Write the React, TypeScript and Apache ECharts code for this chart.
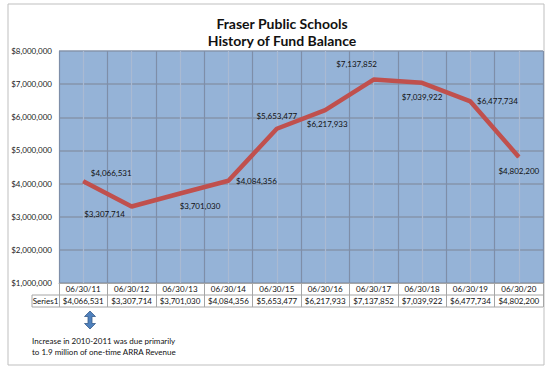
import React, { useEffect, useRef } from "react";
import * as echarts from "echarts";

const categories = ["06/30/11", "06/30/12", "06/30/13", "06/30/14", "06/30/15", "06/30/16", "06/30/17", "06/30/18", "06/30/19", "06/30/20"];
const fundBalance = [4066531, 3307714, 3701030, 4084356, 5653477, 6217933, 7137852, 7039922, 6477734, 4802200];
const seriesName = "Series1";
const titleLines = ["Fraser Public Schools", "History of Fund Balance"];
const noteLines = ["Increase in 2010-2011 was due primarily", "to 1.9 million of one-time ARRA Revenue"];
const labelNudges: [number, number][] = [
  [28, -8], [-27, 7], [20, 13], [28, 0], [0, -13], [2, 14], [-17, -16], [0, 14], [27, 0], [0, 14],
];

const money = (v: number) => "$" + v.toLocaleString("en-US");
const FONT = "Lato, 'Open Sans', sans-serif";

export default function App() {
  const ref = useRef<HTMLDivElement>(null);
  useEffect(() => {
    if (!ref.current) return;
    const chart = echarts.init(ref.current, null, { renderer: "svg" });
    const gridLeft = 59, gridRight = 543, gridBottom = 283;
    const option: any = {
      animation: false,
      backgroundColor: "#ffffff",
      textStyle: { fontFamily: FONT },
      title: {
        text: titleLines.join("\n"),
        left: 277,
        top: 10,
        textAlign: "center",
        textStyle: { fontFamily: FONT, fontSize: 14, fontWeight: "bold", lineHeight: 17, color: "#111" },
      },
      grid: { left: gridLeft, right: 550 - gridRight, top: 51, bottom: 370 - gridBottom, containLabel: false, outerBoundsMode: "none", backgroundColor: "#95b3d7", show: true, borderWidth: 0 },
      xAxis: [
        {
          type: "category",
          data: categories,
          position: "bottom",
          boundaryGap: true,
          axisLine: { show: true, lineStyle: { color: "#a6a6a6", width: 1 } },
          axisTick: { show: true, interval: 0, length: 24, lineStyle: { color: "#a6a6a6" } },
          axisLabel: {
            interval: 0,
            margin: 0,
            fontSize: 8,
            lineHeight: 12,
            color: "#111",
            fontFamily: FONT,
            formatter: (v: string, i: number) => v + "\n" + money(fundBalance[i]),
          },
          splitLine: { show: false },
        },
        {
          type: "value",
          position: "top",
          min: 0,
          max: 20,
          interval: 1,
          axisLine: { show: false },
          axisTick: { show: false },
          axisLabel: { show: false },
          splitLine: { show: true, lineStyle: { color: ["#7e8ea8", "#a9bad2"], width: 1.2 } },
        },
      ],
      yAxis: {
        type: "value",
        min: 1000000,
        max: 8000000,
        interval: 1000000,
        axisLine: { show: false },
        axisTick: { show: false },
        axisLabel: { fontSize: 8, color: "#222", margin: 7, fontFamily: FONT, formatter: (v: number) => money(v) },
        splitLine: { show: true, lineStyle: { color: "#8694ab", width: 1.5 } },
      },
      series: [
        {
          name: seriesName,
          type: "line",
          xAxisIndex: 0,
          data: fundBalance.map((v, i) => ({
            value: v,
            label: { offset: labelNudges[i] },
          })),
          symbol: "circle",
          symbolSize: 1,
          showSymbol: true,
          itemStyle: { color: "#c0504d" },
          lineStyle: { color: "#c0504d", width: 4.5 },
          label: {
            show: true,
            position: "inside",
            fontSize: 8,
            color: "#111",
            fontFamily: FONT,
            formatter: (p: any) => money(p.value),
          },
          z: 5,
        },
      ],
      graphic: [
        { type: "rect", shape: { x: 8, y: 4, width: 536, height: 361 }, style: { fill: "none", stroke: "#bfbfbf", lineWidth: 1 }, silent: true },
        { type: "line", shape: { x1: 32, y1: 295, x2: gridRight, y2: 295 }, style: { stroke: "#a6a6a6", lineWidth: 1 } },
        { type: "line", shape: { x1: 32, y1: 307, x2: gridRight, y2: 307 }, style: { stroke: "#a6a6a6", lineWidth: 1 } },
        { type: "line", shape: { x1: 32, y1: 295, x2: 32, y2: 307 }, style: { stroke: "#a6a6a6", lineWidth: 1 } },
        { type: "text", x: 45.5, y: 301, style: { text: seriesName, fontSize: 8, fill: "#111", fontFamily: FONT, align: "center", verticalAlign: "middle" } },
        {
          type: "polygon",
          shape: { points: [[90, 311], [95.5, 316.5], [92, 316.5], [92, 323.5], [95.5, 323.5], [90, 329], [84.5, 323.5], [88, 323.5], [88, 316.5], [84.5, 316.5]] },
          style: { fill: "#4f81bd", stroke: "#385d8a", lineWidth: 0.8 },
        },
        { type: "text", x: 32, y: 341, style: { text: noteLines[0], fontSize: 8, fill: "#111", fontFamily: FONT, verticalAlign: "middle" } },
        { type: "text", x: 32, y: 351.5, style: { text: noteLines[1], fontSize: 8, fill: "#111", fontFamily: FONT, verticalAlign: "middle" } },
      ],
    };
    chart.setOption(option);
    return () => chart.dispose();
  }, []);
  return <div ref={ref} style={{ position: "fixed", left: 0, top: 0, width: 550, height: 370 }} />;
}
